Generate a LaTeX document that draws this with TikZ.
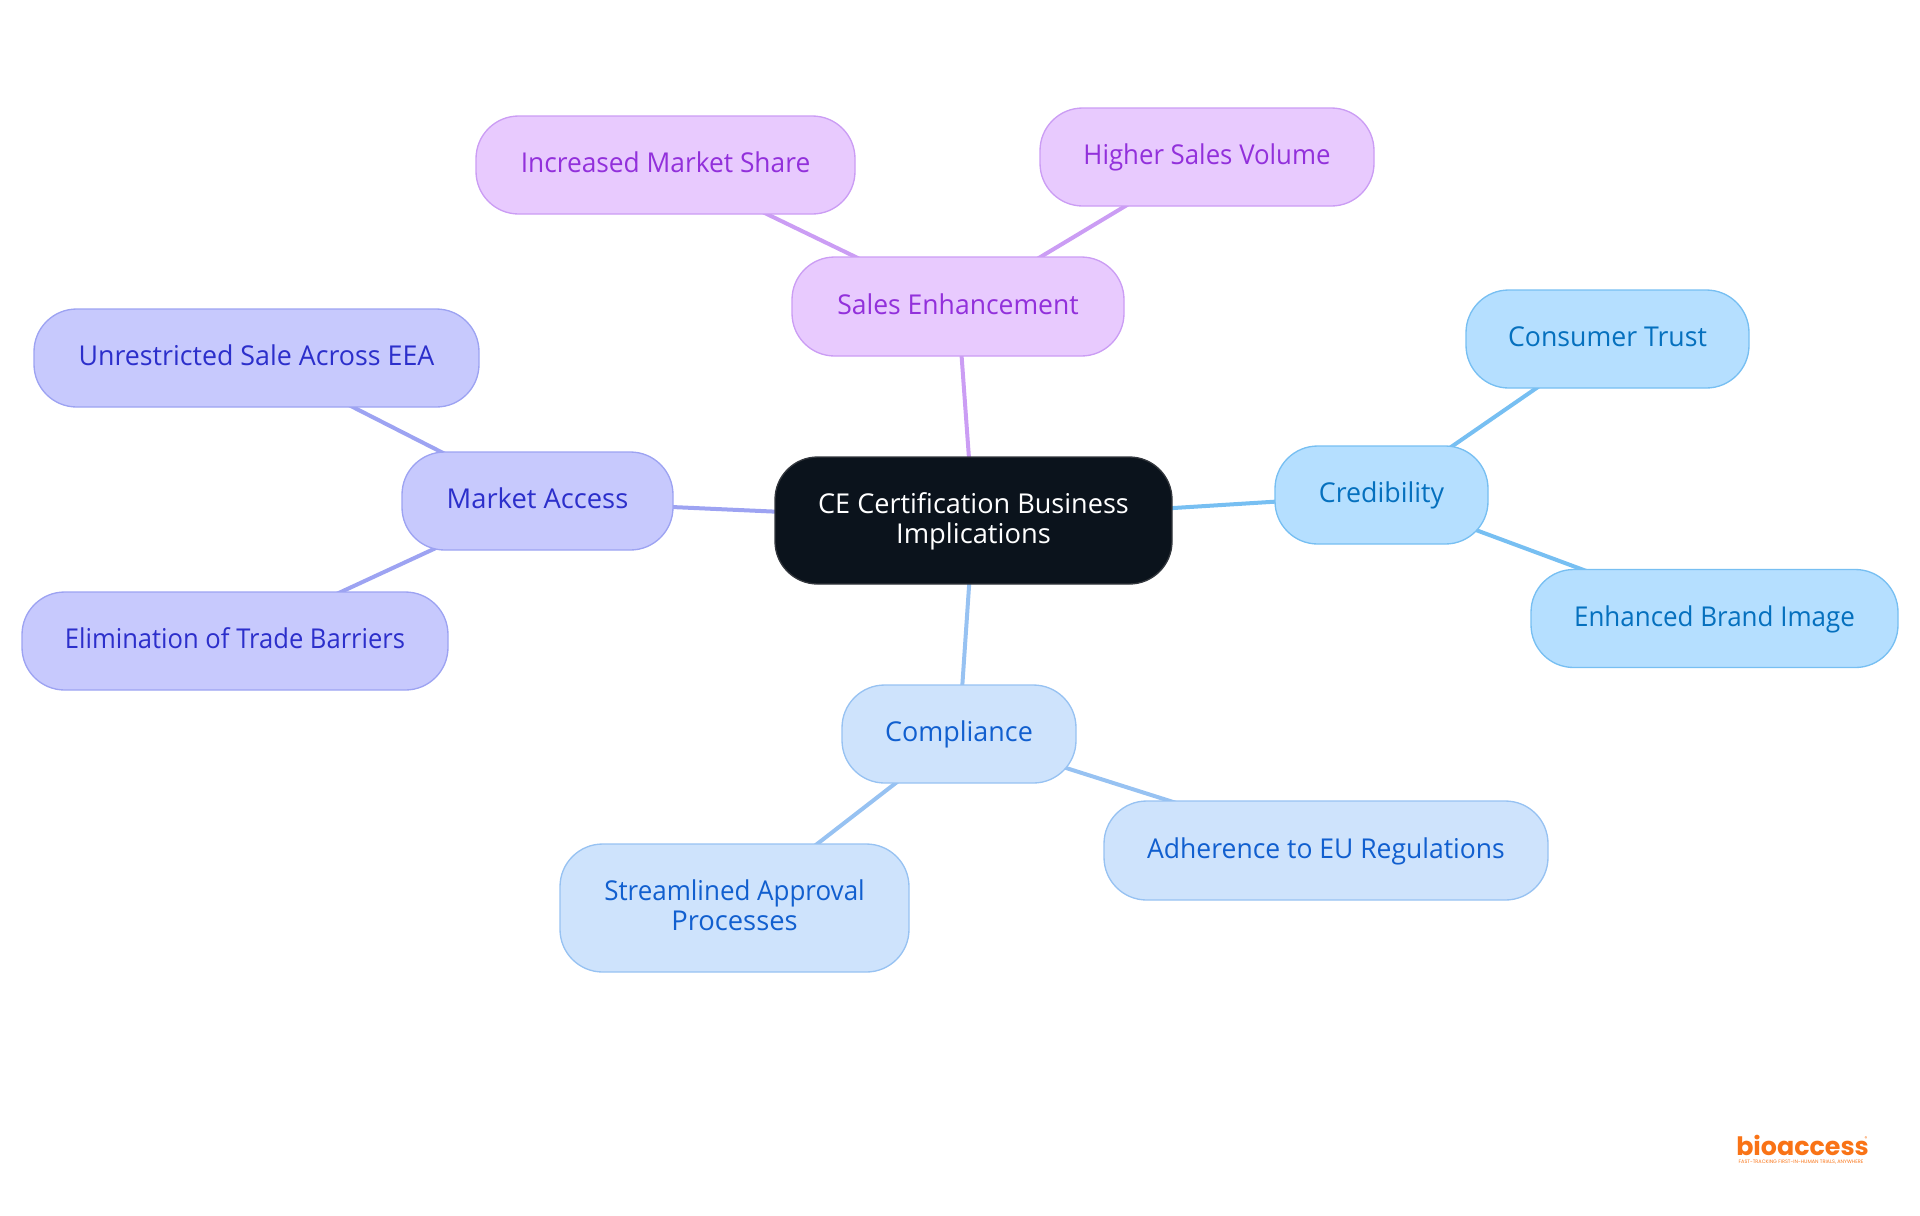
\documentclass[tikz,border=0pt]{standalone}
\usepackage{fontspec}
\setmainfont{Open Sans}
\newfontfamily\logofont{Poppins}
\usetikzlibrary{backgrounds}
\definecolor{cdark}{HTML}{0B131C}
\definecolor{cdarkb}{HTML}{33373D}
\definecolor{pfill}{HTML}{E8CAFE}
\definecolor{pline}{HTML}{CB9DF4}
\definecolor{ptext}{HTML}{9230DB}
\definecolor{vfill}{HTML}{C7C9FD}
\definecolor{vline}{HTML}{9DA3F2}
\definecolor{vtext}{HTML}{2C2FCB}
\definecolor{bfill}{HTML}{B5DFFF}
\definecolor{bline}{HTML}{77BFF2}
\definecolor{btext}{HTML}{0570BE}
\definecolor{lfill}{HTML}{CEE3FC}
\definecolor{lline}{HTML}{97C2F2}
\definecolor{ltext}{HTML}{115FCF}
\definecolor{logoc}{HTML}{F97316}
\tikzset{
  x=0.75pt,y=-0.75pt,
  boxbase/.style={draw,line width=1pt,rounded corners=32pt,align=center,inner sep=0pt,font=\fontsize{20.5pt}{22.5pt}\selectfont},
  rootbox/.style={boxbase,fill=cdark,draw=cdarkb,text=white},
  pbox/.style={boxbase,fill=pfill,draw=pline,text=ptext},
  vbox/.style={boxbase,fill=vfill,draw=vline,text=vtext},
  bbox/.style={boxbase,fill=bfill,draw=bline,text=btext},
  lbox/.style={boxbase,fill=lfill,draw=lline,text=ltext},
  wire/.style={line width=3pt},
}
\newcommand{\sq}{\vrule height16.5pt depth5pt width0pt\relax}
\newcommand{\bx}[8]{\node[#1,minimum width=#4*0.75pt,minimum height=#5*0.75pt] (#2) at (#6,#7) {\addfontfeature{FakeStretch=#3}\sq #8};}
\begin{document}
\begin{tikzpicture}
\useasboundingbox (0,0) rectangle (1920,1215);
\bx{rootbox}{root}{0.99}{397}{127}{973.5}{520.5}{CE Certification Business\\\sq Implications}
\bx{pbox}{sales}{0.97}{332}{99}{958}{306.5}{Sales Enhancement}
\bx{pbox}{share}{0.963}{379}{98}{665.5}{165}{Increased Market Share}
\bx{pbox}{volume}{0.944}{334}{98}{1207}{157}{Higher Sales Volume}
\bx{bbox}{cred}{0.98}{213}{98}{1381.5}{495}{Credibility}
\bx{bbox}{trust}{0.976}{283}{98}{1607.5}{339}{Consumer Trust}
\bx{bbox}{brand}{0.95}{367}{98}{1714.5}{618.5}{Enhanced Brand Image}
\bx{lbox}{comp}{0.984}{234}{98}{959}{734}{Compliance}
\bx{lbox}{eu}{0.97}{444}{99}{1326}{850.5}{Adherence to EU Regulations}
\bx{lbox}{appr}{0.95}{349}{128}{734.5}{908}{Streamlined Approval\\\sq Processes}
\bx{vbox}{market}{1.0}{271}{98}{537.5}{501}{Market Access}
\bx{vbox}{sale}{0.98}{445}{98}{256.5}{358}{Unrestricted Sale Across EEA}
\bx{vbox}{trade}{0.936}{426}{98}{235}{641}{Elimination of Trade Barriers}
\begin{scope}[on background layer]
\draw[wire,pline] (root.center) -- (sales.center);
\draw[wire,pline] (sales.center) -- (share.center);
\draw[wire,pline] (sales.center) -- (volume.center);
\draw[wire,bline] (root.center) -- (cred.center);
\draw[wire,bline] (cred.center) -- (trust.center);
\draw[wire,bline] (cred.center) -- (brand.center);
\draw[wire,lline] (root.center) -- (comp.center);
\draw[wire,lline] (comp.center) -- (eu.center);
\draw[wire,lline] (comp.center) -- (appr.center);
\draw[wire,vline] (root.center) -- (market.center);
\draw[wire,vline] (market.center) -- (sale.center);
\draw[wire,vline] (market.center) -- (trade.center);
\end{scope}
\node[inner sep=0pt,text=logoc,font=\logofont\bfseries\fontsize{19pt}{19pt}\selectfont] (logo) at (1802.5,1145) {bioaccess};
\node[inner sep=0pt,text=logoc,font=\logofont\fontsize{4pt}{4pt}\selectfont] (reg) at (1866,1139) {®};
\node[inner sep=0pt,text=logoc,font=\logofont\fontsize{3.7pt}{4pt}\selectfont] (tag) at (1801,1162) {FAST-TRACKING FIRST-IN-HUMAN TRIALS, ANYWHERE};
\end{tikzpicture}
\end{document}
